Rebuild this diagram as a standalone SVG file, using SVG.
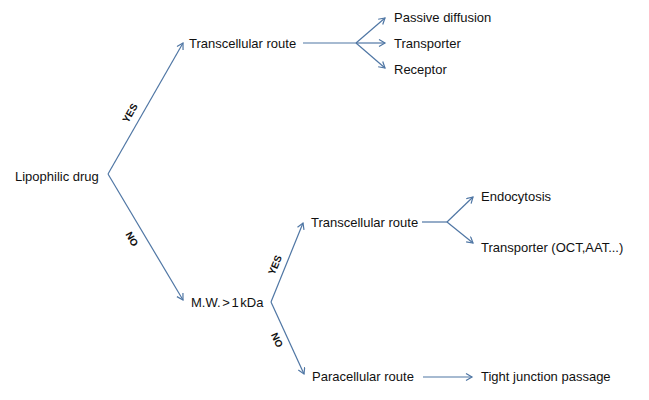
<svg xmlns="http://www.w3.org/2000/svg" width="649" height="400" viewBox="0 0 649 400">
<style>
text{font-family:"Liberation Sans",Arial,sans-serif;fill:#111;}
.n{font-size:13px;}
.lbl{font-size:10px;font-weight:bold;text-anchor:middle;dominant-baseline:central;}
.c{fill:none;stroke:#4f76a4;stroke-width:1.2;}
</style>
<defs>
<marker id="ah" markerUnits="userSpaceOnUse" markerWidth="10" markerHeight="10" refX="7" refY="4" orient="auto">
<path d="M1,0.5 L7,4 L1,7.5" fill="none" stroke="#4f76a4" stroke-width="1.2"/>
</marker>
</defs>
<rect width="649" height="400" fill="#fff"/>
<g id="connectors">
<line class="c" x1="108" y1="174" x2="183" y2="43" marker-end="url(#ah)"/>
<line class="c" x1="108" y1="174" x2="183" y2="300" marker-end="url(#ah)"/>
<line class="c" x1="303" y1="43" x2="356" y2="43"/>
<line class="c" x1="356" y1="43" x2="385" y2="18" marker-end="url(#ah)"/>
<line class="c" x1="356" y1="43" x2="385" y2="43" marker-end="url(#ah)"/>
<line class="c" x1="356" y1="43" x2="385" y2="68" marker-end="url(#ah)"/>
<line class="c" x1="271" y1="302" x2="303" y2="223" marker-end="url(#ah)"/>
<line class="c" x1="271" y1="302" x2="304" y2="374" marker-end="url(#ah)"/>
<line class="c" x1="422" y1="222" x2="447" y2="222"/>
<line class="c" x1="447" y1="222" x2="473" y2="197" marker-end="url(#ah)"/>
<line class="c" x1="447" y1="222" x2="473" y2="243" marker-end="url(#ah)"/>
<line class="c" x1="423" y1="377" x2="472" y2="377" marker-end="url(#ah)"/>
<text class="lbl" transform="translate(130,113) rotate(-60)">YES</text>
<text class="lbl" transform="translate(132,239) rotate(60)">NO</text>
<text class="lbl" transform="translate(275,265) rotate(-67)">YES</text>
<text class="lbl" transform="translate(277,340) rotate(65)">NO</text>
</g>
<g id="lipophilic"><text class="n" x="15" y="181">Lipophilic drug</text></g>
<g id="transcellular1"><text class="n" x="189" y="48">Transcellular route</text></g>
<g id="passive"><text class="n" x="394" y="22">Passive diffusion</text></g>
<g id="transporter1"><text class="n" x="394" y="48">Transporter</text></g>
<g id="receptor"><text class="n" x="394" y="74">Receptor</text></g>
<g id="mw"><text class="n" x="191" y="307" word-spacing="-2">M.W. &gt; 1 kDa</text></g>
<g id="transcellular2"><text class="n" x="311" y="227">Transcellular route</text></g>
<g id="endocytosis"><text class="n" x="481" y="201">Endocytosis</text></g>
<g id="transporter2"><text class="n" x="481" y="252">Transporter (OCT,AAT...)</text></g>
<g id="paracellular"><text class="n" x="312" y="381">Paracellular route</text></g>
<g id="tight"><text class="n" x="481" y="381">Tight junction passage</text></g>
</svg>
